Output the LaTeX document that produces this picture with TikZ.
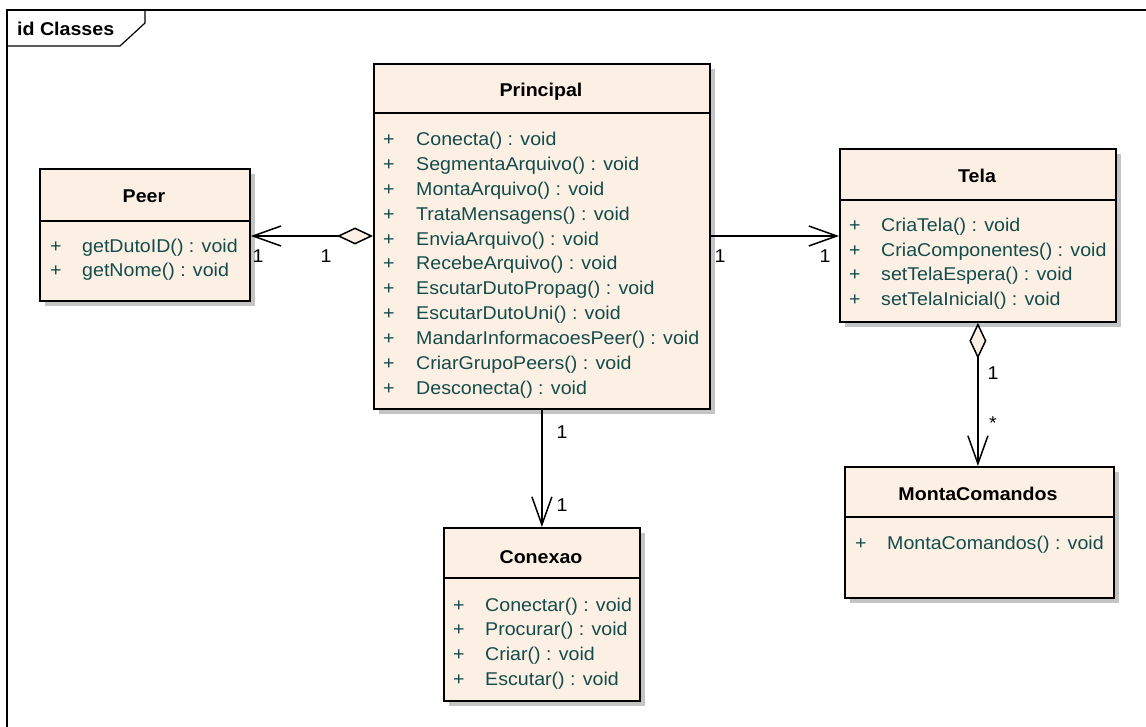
\documentclass[tikz,border=0pt]{standalone}
\usepackage{fontspec}
\setmainfont{Liberation Sans}[FakeStretch=1.06]
\usetikzlibrary{arrows.meta,shadows}
\definecolor{classfill}{RGB}{251,240,227}
\definecolor{membercol}{RGB}{20,75,75}
\definecolor{shadowcol}{RGB}{196,196,196}
\begin{document}
\begin{tikzpicture}[x=1pt,y=-1pt,
  every node/.style={font=\fontsize{18.5}{21}\selectfont, inner sep=0pt},
  classbox/.style={draw=black, line width=1.8pt, fill=classfill, anchor=north west,
    drop shadow={shadow xshift=5.5pt, shadow yshift=-5.5pt, fill=shadowcol, opacity=1}},
  sepline/.style={line width=1.4pt},
  classtitle/.style={anchor=base, font=\fontsize{18.5}{21}\selectfont\bfseries},
  member/.style={anchor=base west, text=membercol},
  mult/.style={anchor=center},
  assoc/.style={line width=1.5pt},
  openhead/.style={-{Straight Barb[length=28pt,width=20pt]}},
  aggr/.style={{Diamond[length=36pt,width=17pt,fill=classfill]}-{Straight Barb[length=28pt,width=20pt]}}
]
\useasboundingbox (0,0) rectangle (1146,727);

% diagram frame with its name tab
\draw[line width=1.5pt] (7,740) -- (7,10) -- (1160,10);
\draw[line width=1.2pt] (7,46) -- (120,46) -- (145,23) -- (145,10);
\node[anchor=base west, font=\fontsize{18.5}{21}\selectfont\bfseries] (frametitle) at (17,36) {id Classes};

% Peer
\node[classbox, minimum width=210pt, minimum height=132pt] (peer) at (39,168) {};
\draw[sepline] (peer.west |- 0,221) -- (peer.east |- 0,221);
\node[classtitle] (peer-t) at (144,203) {Peer};
\foreach \m [count=\i from 0] in {getDutoID() : void, getNome() : void} {
  \node[member] (peer-p\i) at (50,253+24*\i) {+};
  \node[member] (peer-m\i) at (82,253+24*\i) {\m};
}

% Principal
\node[classbox, minimum width=336pt, minimum height=345pt] (principal) at (373,63) {};
\draw[sepline] (principal.west |- 0,113) -- (principal.east |- 0,113);
\node[classtitle] (principal-t) at (541,97) {Principal};
\foreach \m [count=\i from 0] in {Conecta() : void, SegmentaArquivo() : void,
    MontaArquivo() : void, TrataMensagens() : void, EnviaArquivo() : void,
    RecebeArquivo() : void, EscutarDutoPropag() : void, EscutarDutoUni() : void,
    MandarInformacoesPeer() : void, CriarGrupoPeers() : void, Desconecta() : void} {
  \node[member] (principal-p\i) at (383,146+24.8*\i) {+};
  \node[member] (principal-m\i) at (416,146+24.8*\i) {\m};
}

% Tela
\node[classbox, minimum width=276pt, minimum height=173pt] (tela) at (839,148) {};
\draw[sepline] (tela.west |- 0,200) -- (tela.east |- 0,200);
\node[classtitle] (tela-t) at (977,183) {Tela};
\foreach \m [count=\i from 0] in {CriaTela() : void, CriaComponentes() : void,
    setTelaEspera() : void, setTelaInicial() : void} {
  \node[member] (tela-p\i) at (849,232+24.4*\i) {+};
  \node[member] (tela-m\i) at (881,232+24.4*\i) {\m};
}

% Conexao
\node[classbox, minimum width=196pt, minimum height=173pt] (conexao) at (443,527) {};
\draw[sepline] (conexao.west |- 0,578) -- (conexao.east |- 0,578);
\node[classtitle] (conexao-t) at (541,563) {Conexao};
\foreach \m [count=\i from 0] in {Conectar() : void, Procurar() : void,
    Criar() : void, Escutar() : void} {
  \node[member] (conexao-p\i) at (453,611+24.8*\i) {+};
  \node[member] (conexao-m\i) at (485,611+24.8*\i) {\m};
}

% MontaComandos
\node[classbox, minimum width=269pt, minimum height=131pt] (monta) at (844,466) {};
\draw[sepline] (monta.west |- 0,517) -- (monta.east |- 0,517);
\node[classtitle] (monta-t) at (978,500) {MontaComandos};
\node[member] (monta-p0) at (855,549) {+};
\node[member] (monta-m0) at (887,549) {MontaComandos() : void};

% associations
\draw[assoc, aggr] (principal.west |- 0,236) -- (peer.east |- 0,236);
\node[mult] (m-peer) at (258,256) {1};
\node[mult] (m-principal-l) at (326,256) {1};

\draw[assoc, openhead] (principal.east |- 0,236) -- (tela.west |- 0,236);
\node[mult] (m-principal-r) at (720,256) {1};
\node[mult] (m-tela) at (825,256) {1};

\draw[assoc, openhead] (principal.south) -- (conexao.north);
\node[mult] (m-principal-b) at (562,432) {1};
\node[mult] (m-conexao) at (562,505) {1};

\draw[assoc, aggr] (tela.south) -- (tela.south |- monta.north);
\node[mult] (m-tela-b) at (993,373) {1};
\node[mult] (m-monta) at (993,423) {*};
\end{tikzpicture}
\end{document}
